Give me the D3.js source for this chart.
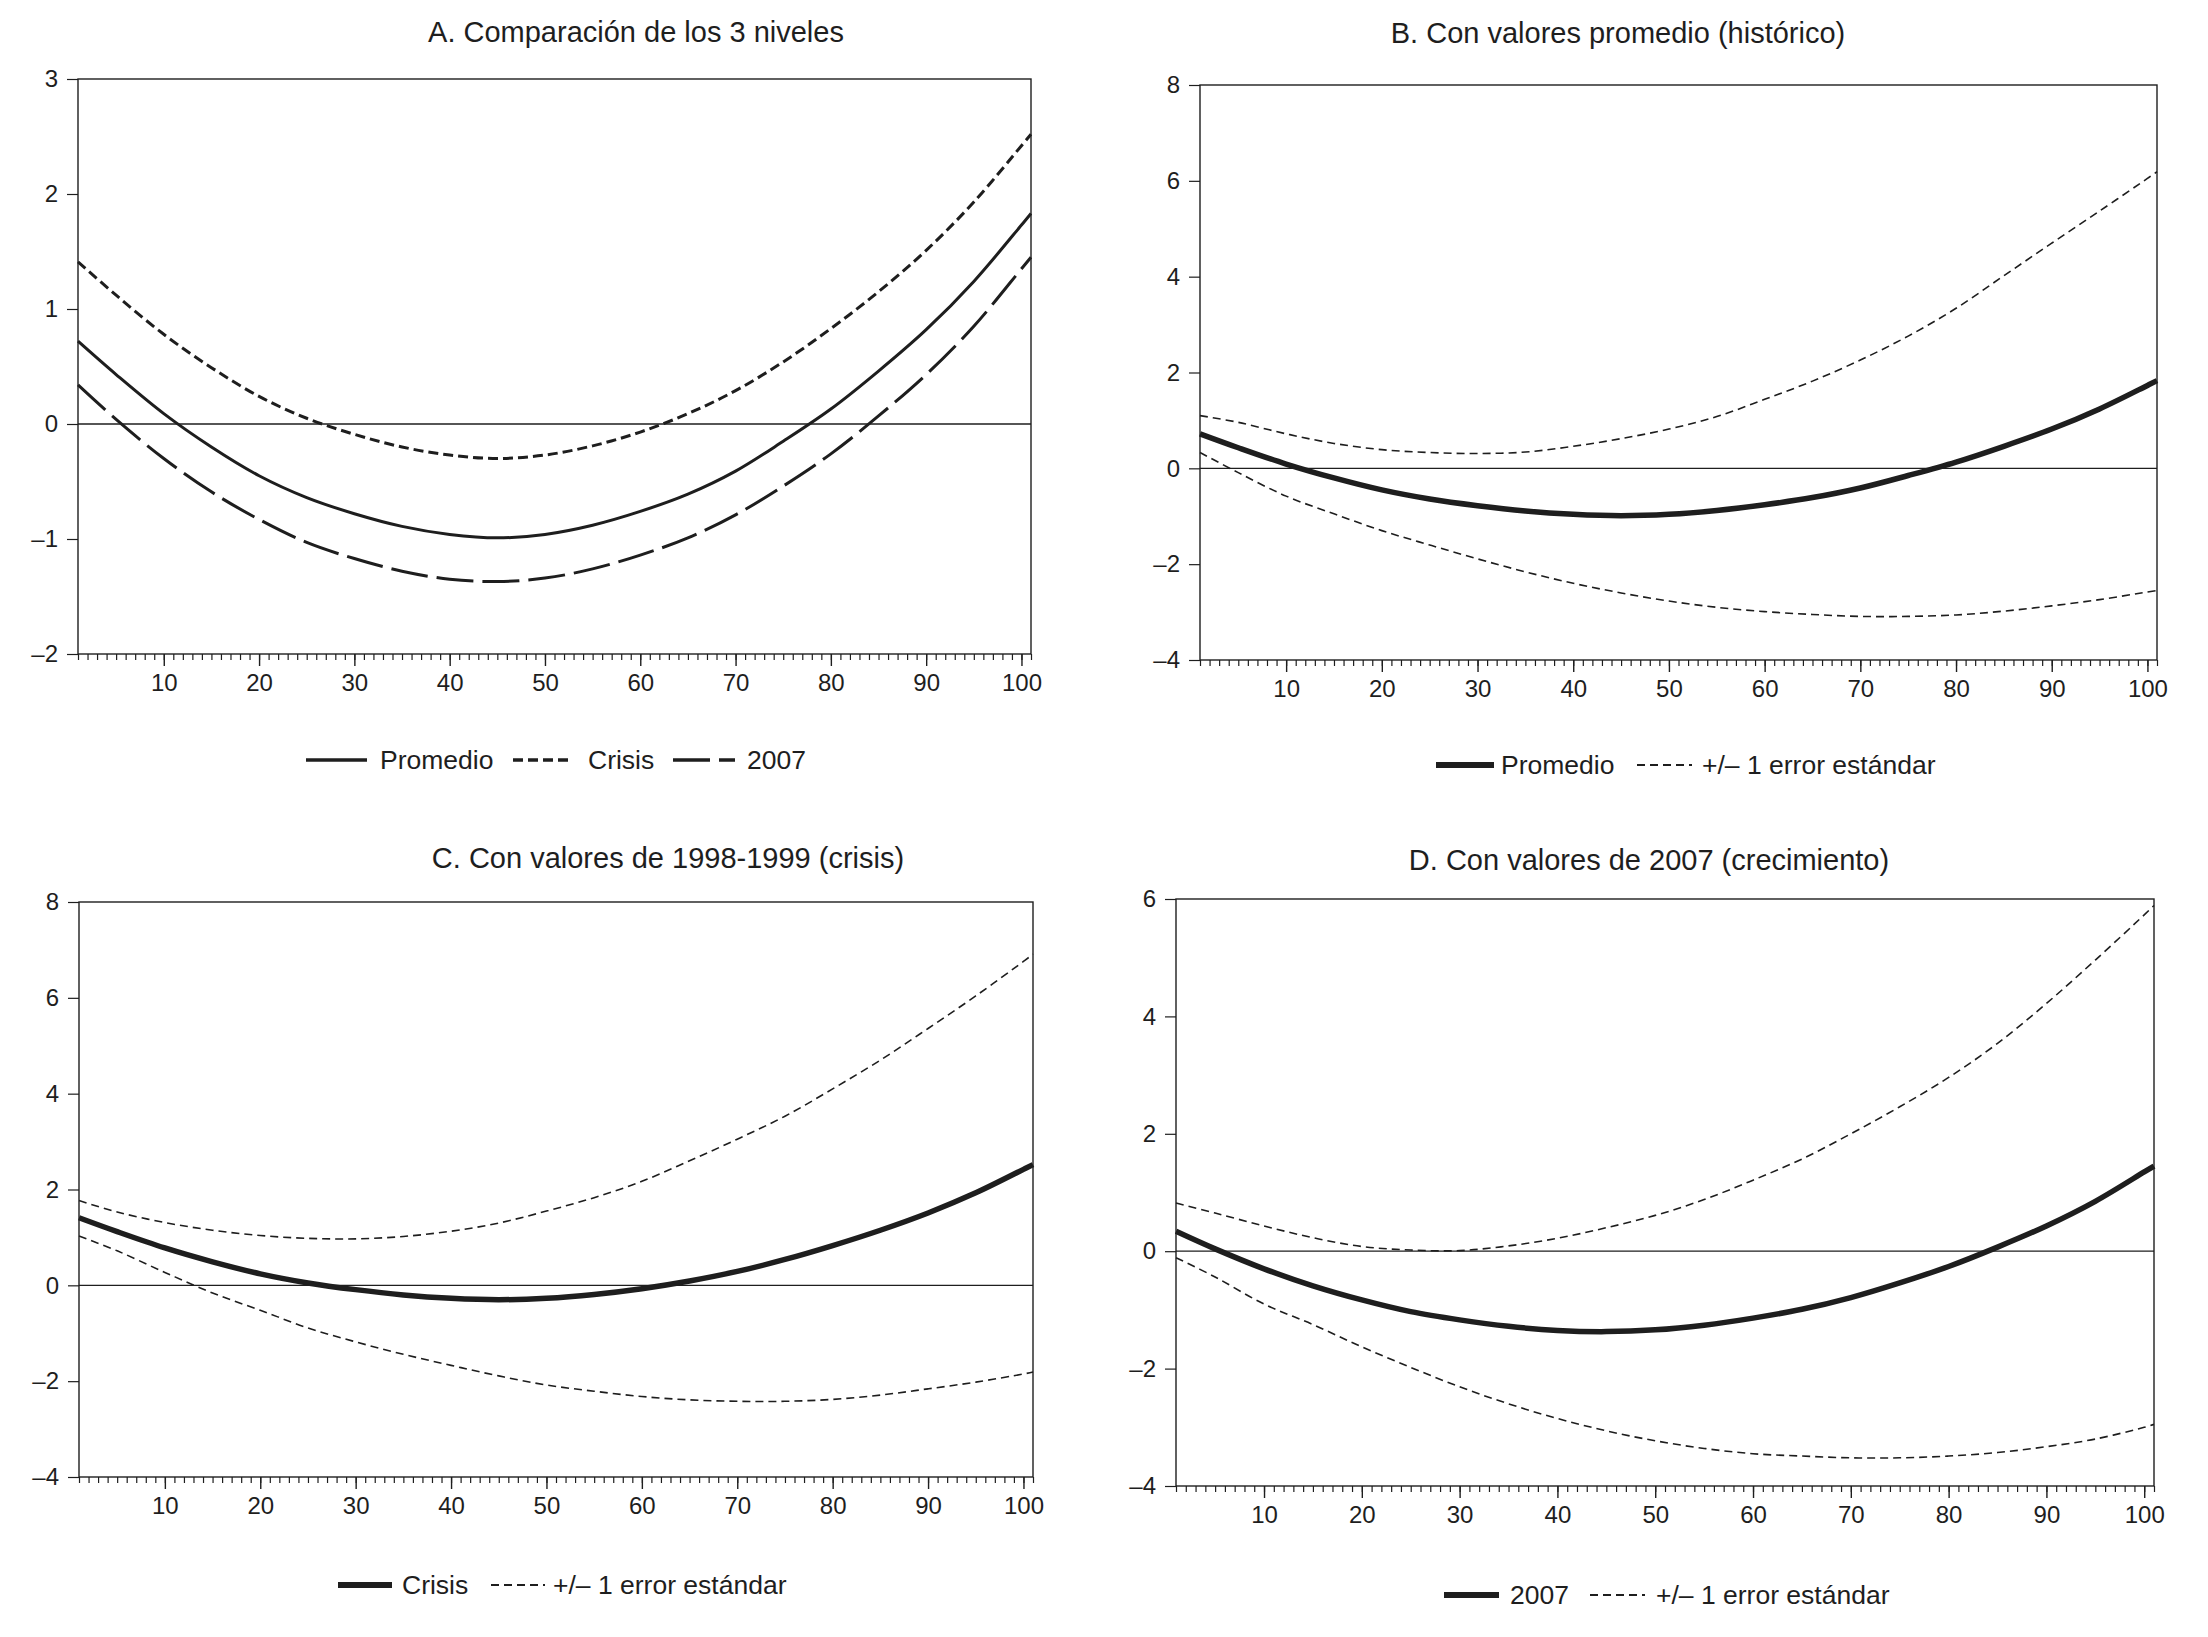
<!DOCTYPE html>
<html>
<head>
<meta charset="utf-8">
<script src="https://cdn.jsdelivr.net/npm/d3@7"></script>
<style>
  body { margin: 0; background: #fff; }
  svg { font-family: "Liberation Sans", Arial, Helvetica, sans-serif; }
  .tick text { fill: #1e1e1e; }
</style>
</head>
<body>
<div class="canva"></div>
<script>
const obs = [1, 5, 10, 15, 20, 25, 30, 35, 40, 45, 50, 55, 60, 65, 70, 75, 80, 85, 90, 95, 100, 101];

// central estimates
const promedio = [0.72, 0.43, 0.09, -0.20, -0.45, -0.64, -0.78, -0.89, -0.96, -0.99, -0.96, -0.88, -0.76, -0.61, -0.41, -0.15, 0.13, 0.46, 0.82, 1.24, 1.73, 1.83];
const crisis = [1.41, 1.12, 0.78, 0.49, 0.24, 0.05, -0.09, -0.20, -0.27, -0.30, -0.27, -0.19, -0.07, 0.09, 0.29, 0.54, 0.83, 1.15, 1.51, 1.93, 2.42, 2.52];
const anio2007 = [0.34, 0.04, -0.30, -0.59, -0.83, -1.03, -1.17, -1.28, -1.35, -1.37, -1.34, -1.26, -1.14, -0.99, -0.79, -0.54, -0.26, 0.07, 0.43, 0.85, 1.35, 1.45];

// +/- 1 standard error bands
const promedioSup = [1.10, 0.96, 0.72, 0.52, 0.39, 0.33, 0.31, 0.34, 0.46, 0.62, 0.82, 1.08, 1.44, 1.82, 2.26, 2.76, 3.34, 4.02, 4.70, 5.37, 6.05, 6.19];
const promedioInf = [0.33, -0.09, -0.58, -0.95, -1.30, -1.60, -1.89, -2.16, -2.40, -2.60, -2.77, -2.90, -2.99, -3.05, -3.09, -3.09, -3.06, -2.98, -2.87, -2.74, -2.58, -2.55];
const crisisSup = [1.77, 1.53, 1.31, 1.15, 1.04, 0.98, 0.97, 1.02, 1.13, 1.30, 1.55, 1.83, 2.17, 2.60, 3.05, 3.53, 4.10, 4.70, 5.36, 6.04, 6.76, 6.91];
const crisisInf = [1.03, 0.72, 0.27, -0.16, -0.52, -0.89, -1.18, -1.44, -1.67, -1.89, -2.08, -2.21, -2.32, -2.39, -2.42, -2.42, -2.38, -2.29, -2.16, -2.02, -1.85, -1.81];
const anio2007Sup = [0.82, 0.65, 0.43, 0.23, 0.08, 0.02, 0.01, 0.09, 0.22, 0.40, 0.61, 0.88, 1.21, 1.57, 2.00, 2.46, 2.96, 3.54, 4.22, 4.96, 5.73, 5.89];
const anio2007Inf = [-0.11, -0.44, -0.90, -1.25, -1.63, -1.98, -2.31, -2.60, -2.85, -3.06, -3.23, -3.36, -3.45, -3.49, -3.52, -3.52, -3.49, -3.43, -3.33, -3.20, -3.00, -2.95];

// axis ticks
const xMajor = [10, 20, 30, 40, 50, 60, 70, 80, 90, 100];
const yTicksA = [-2, -1, 0, 1, 2, 3];
const yTicksBC = [-4, -2, 0, 2, 4, 6, 8];
const yTicksD = [-4, -2, 0, 2, 4, 6];

const ink = "#1e1e1e";
const seLabel = "+/\u2013 1 error est\u00e1ndar";

const styles = {
	solidA: { w: 3, dash: null },
	shortA: { w: 3, dash: "10,5" },
	longA: { w: 3, dash: "37,9" },
	thick: { w: 5.5, dash: null },
	se: { w: 1.6, dash: "8,5" }
};

const panels = [
	{
		title: "A. Comparación de los 3 niveles", tx: 636, ty: 42,
		l: 78, r: 1031, t: 79, b: 654, yDomain: [-2, 3], yTicks: yTicksA,
		series: [
			{ v: promedio, s: "solidA" },
			{ v: crisis, s: "shortA" },
			{ v: anio2007, s: "longA" }
		],
		ly: 760,
		legend: [
			{ s: "solidA", x0: 306, x1: 367, label: "Promedio", lx: 380 },
			{ s: "shortA", x0: 513, x1: 568, label: "Crisis", lx: 588 },
			{ s: "longA", x0: 673, x1: 735, label: "2007", lx: 747 }
		]
	},
	{
		title: "B. Con valores promedio (histórico)", tx: 1618, ty: 43,
		l: 1200, r: 2157, t: 85, b: 660, yDomain: [-4, 8], yTicks: yTicksBC,
		series: [
			{ v: promedioSup, s: "se" },
			{ v: promedioInf, s: "se" },
			{ v: promedio, s: "thick" }
		],
		ly: 765,
		legend: [
			{ s: "thick", x0: 1436, x1: 1494, label: "Promedio", lx: 1501 },
			{ s: "se", x0: 1637, x1: 1692, label: seLabel, lx: 1702 }
		]
	},
	{
		title: "C. Con valores de 1998-1999 (crisis)", tx: 668, ty: 868,
		l: 79, r: 1033, t: 902, b: 1477, yDomain: [-4, 8], yTicks: yTicksBC,
		series: [
			{ v: crisisSup, s: "se" },
			{ v: crisisInf, s: "se" },
			{ v: crisis, s: "thick" }
		],
		ly: 1585,
		legend: [
			{ s: "thick", x0: 338, x1: 392, label: "Crisis", lx: 402 },
			{ s: "se", x0: 491, x1: 545, label: seLabel, lx: 553 }
		]
	},
	{
		title: "D. Con valores de 2007 (crecimiento)", tx: 1649, ty: 870,
		l: 1176, r: 2154, t: 899, b: 1486, yDomain: [-4, 6], yTicks: yTicksD,
		series: [
			{ v: anio2007Sup, s: "se" },
			{ v: anio2007Inf, s: "se" },
			{ v: anio2007, s: "thick" }
		],
		ly: 1595,
		legend: [
			{ s: "thick", x0: 1444, x1: 1499, label: "2007", lx: 1510 },
			{ s: "se", x0: 1590, x1: 1645, label: seLabel, lx: 1656 }
		]
	}
];

const svg = d3
	.select(".canva")
	.append("svg")
	.attr("width", 2208)
	.attr("height", 1637);

svg.append("rect").attr("width", 2208).attr("height", 1637).attr("fill", "#fff");

function fmt(d) {
	return d < 0 ? "\u2013" + Math.abs(d) : String(d);
}

panels.forEach((p) => {
	const x = d3.scaleLinear().domain([1, 101]).range([p.l, p.r]);
	const y = d3.scaleLinear().domain(p.yDomain).range([p.b, p.t]);
	const g = svg.append("g");

	// title
	g.append("text")
		.attr("x", p.tx)
		.attr("y", p.ty)
		.attr("text-anchor", "middle")
		.attr("font-size", 29)
		.attr("fill", ink)
		.text(p.title);

	// minor x ticks (every observation)
	g.append("g")
		.attr("transform", `translate(0,${p.b})`)
		.call(d3.axisBottom(x).tickValues(d3.range(1, 102)).tickSize(6).tickFormat(""))
		.call((a) => a.select(".domain").remove())
		.call((a) => a.selectAll("line").attr("stroke", ink).attr("stroke-width", 1.2));

	// major x ticks with labels
	g.append("g")
		.attr("transform", `translate(0,${p.b})`)
		.call(d3.axisBottom(x).tickValues(xMajor).tickSize(12).tickPadding(8))
		.call((a) => a.select(".domain").remove())
		.call((a) => a.selectAll("line").attr("stroke", ink).attr("stroke-width", 1.4))
		.call((a) => a.selectAll("text").attr("font-size", 24));

	// y axis
	g.append("g")
		.attr("transform", `translate(${p.l},0)`)
		.call(d3.axisLeft(y).tickValues(p.yTicks).tickSize(11).tickPadding(9).tickFormat(fmt))
		.call((a) => a.select(".domain").remove())
		.call((a) => a.selectAll("line").attr("stroke", ink).attr("stroke-width", 1.2))
		.call((a) => a.selectAll("text").attr("font-size", 24));

	// zero line
	g.append("line")
		.attr("x1", p.l)
		.attr("x2", p.r)
		.attr("y1", y(0))
		.attr("y2", y(0))
		.attr("stroke", ink)
		.attr("stroke-width", 1.3);

	// series
	const line = d3
		.line()
		.x((d, i) => x(obs[i]))
		.y((d) => y(d))
		.curve(d3.curveCatmullRom);

	p.series.forEach((s) => {
		const st = styles[s.s];
		g.append("path")
			.datum(s.v)
			.attr("d", line)
			.attr("fill", "none")
			.attr("stroke", ink)
			.attr("stroke-width", st.w)
			.attr("stroke-dasharray", st.dash);
	});

	// frame
	g.append("rect")
		.attr("x", p.l)
		.attr("y", p.t)
		.attr("width", p.r - p.l)
		.attr("height", p.b - p.t)
		.attr("fill", "none")
		.attr("stroke", ink)
		.attr("stroke-width", 1.4);

	// legend
	p.legend.forEach((it) => {
		const st = styles[it.s];
		g.append("line")
			.attr("x1", it.x0)
			.attr("x2", it.x1)
			.attr("y1", p.ly)
			.attr("y2", p.ly)
			.attr("stroke", ink)
			.attr("stroke-width", it.s === "thick" ? 6 : st.w + 0.5)
			.attr("stroke-dasharray", st.dash);
		g.append("text")
			.attr("x", it.lx)
			.attr("y", p.ly + 9)
			.attr("font-size", 26.5)
			.attr("fill", ink)
			.text(it.label);
	});
});
</script>
</body>
</html>
